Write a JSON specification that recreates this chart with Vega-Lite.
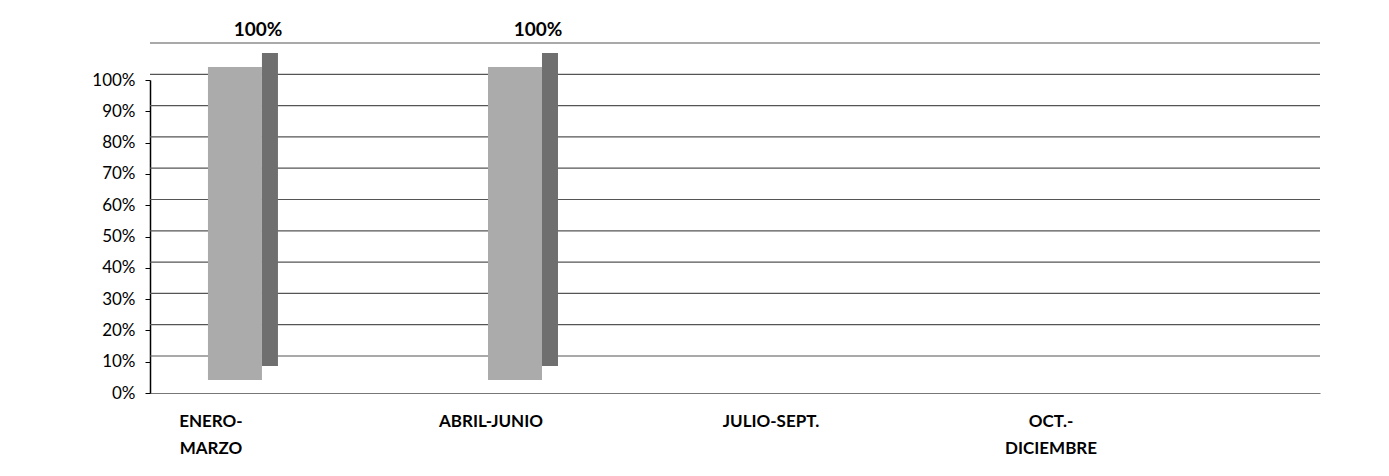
{
  "$schema": "https://vega.github.io/schema/vega-lite/v6.json",
  "autosize": "none",
  "width": 1170,
  "height": 313,
  "padding": {"left": 150, "top": 80, "right": 69, "bottom": 83},
  "background": "white",
  "config": {
    "view": {"stroke": null},
    "font": "Lato",
    "axis": {"labelFont": "Lato", "labelColor": "#000000", "grid": false}
  },
  "datasets": {
    "bars": [
      {"periodo": "ENERO-MARZO", "valor": 1.0},
      {"periodo": "ABRIL-JUNIO", "valor": 1.0},
      {"periodo": "JULIO-SEPT.", "valor": 0},
      {"periodo": "OCT.-DICIEMBRE", "valor": 0}
    ],
    "grid": [
      {"nivel": 0}, {"nivel": 0.1}, {"nivel": 0.2}, {"nivel": 0.3}, {"nivel": 0.4},
      {"nivel": 0.5}, {"nivel": 0.6}, {"nivel": 0.7}, {"nivel": 0.8}, {"nivel": 0.9}, {"nivel": 1.0}
    ]
  },
  "layer": [
    {
      "data": {"name": "grid"},
      "mark": {"type": "rule", "color": "#555555", "strokeWidth": 1.2, "yOffset": -37},
      "encoding": {
        "y": {"field": "nivel", "type": "quantitative", "scale": {"domain": [0, 1], "nice": false},
              "axis": {"title": null, "format": ".0%", "tickCount": 10, "labelOverlap": false, "labelBound": false,
                       "labelFontSize": 17, "labelPadding": 10, "tickSize": 5, "tickColor": "#000000",
                       "domainColor": "#000000", "domainWidth": 1.5}}
      }
    },
    {
      "data": {"name": "bars"},
      "mark": {"type": "bar", "color": "#6f6f6f", "width": 16, "xOffset": 27, "yOffset": -27},
      "transform": [{"filter": "datum.valor > 0"}],
      "encoding": {
        "x": {"field": "periodo", "type": "nominal", "sort": null,
              "scale": {"domain": ["ENERO-MARZO", "ABRIL-JUNIO", "JULIO-SEPT.", "OCT.-DICIEMBRE"],
                        "paddingInner": 0.75, "paddingOuter": 0.464, "align": 0.223},
              "axis": {"title": null, "labelAngle": 0, "labelFontWeight": "bold", "labelFontSize": 17,
                       "labelOffset": -32, "labelPadding": 20, "labelLineHeight": 27, "labelBaseline": "top",
                       "ticks": false, "domainColor": "#777777", "labelOverlap": false,
                       "labelExpr": "datum.value == 'ENERO-MARZO' ? ['ENERO-', 'MARZO'] : datum.value == 'OCT.-DICIEMBRE' ? ['OCT.-', 'DICIEMBRE'] : datum.value"}},
        "y": {"field": "valor", "type": "quantitative"}
      }
    },
    {
      "data": {"name": "bars"},
      "mark": {"type": "bar", "color": "#ababab", "width": 54, "xOffset": -8, "yOffset": -13},
      "transform": [{"filter": "datum.valor > 0"}],
      "encoding": {
        "x": {"field": "periodo", "type": "nominal", "sort": null},
        "y": {"field": "valor", "type": "quantitative"}
      }
    },
    {
      "data": {"name": "bars"},
      "mark": {"type": "text", "fontWeight": "bold", "fontSize": 19, "dx": 15, "dy": -50, "baseline": "middle", "color": "#000000"},
      "transform": [{"filter": "datum.valor > 0"}],
      "encoding": {
        "x": {"field": "periodo", "type": "nominal", "sort": null},
        "y": {"field": "valor", "type": "quantitative"},
        "text": {"field": "valor", "type": "quantitative", "format": ".0%"}
      }
    }
  ]
}
